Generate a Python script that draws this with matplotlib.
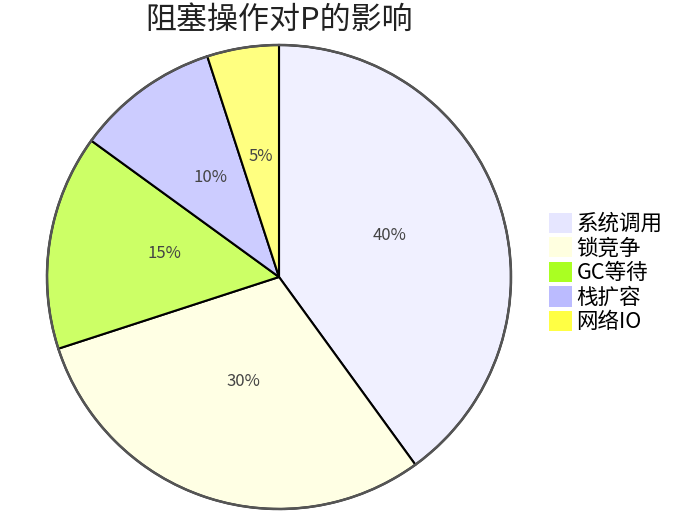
import matplotlib
matplotlib.use("Agg")
import matplotlib.pyplot as plt
from matplotlib.patches import Patch, Circle

plt.rcParams['font.family'] = ['Noto Sans CJK SC', 'DejaVu Sans']

title = "阻塞操作对P的影响"
labels = ["系统调用", "锁竞争", "GC等待", "栈扩容", "网络IO"]
values = [40, 30, 15, 10, 5]
pie_colors = ["#f0f0ff", "#ffffe4", "#ccff66", "#ccccff", "#ffff80"]
legend_colors = ["#e6e6ff", "#ffffe0", "#aaff22", "#bbbbff", "#ffff44"]

fig = plt.figure(figsize=(6.94, 5.30), dpi=100)
ax = fig.add_axes([47/694, 21/530, 464/694, 464/530])

wedges, texts, autotexts = ax.pie(
    values, colors=pie_colors, startangle=90, counterclock=False,
    autopct=lambda p: f"{p:.0f}%", pctdistance=0.50,
    wedgeprops=dict(edgecolor="black", linewidth=1.5, clip_on=False),
    textprops=dict(color="#444444", fontsize=12),
)
for t in autotexts:
    x, y = t.get_position()
    t.set_position((x, y + 0.025))
ax.add_patch(Circle((0, 0), 1.0, facecolor="none", edgecolor="#555555",
                    linewidth=1.8, clip_on=False, zorder=5))
ax.set_xlim(-1, 1)
ax.set_ylim(-1, 1)
ax.set_aspect("equal")
ax.axis("off")

fig.text(279/694, 1 - 20/530, title, ha="center", va="center", fontsize=22.3, color="#222222")

handles = [Patch(facecolor=c, edgecolor="none") for c in legend_colors]
fig.legend(handles, labels, loc="center left", bbox_to_anchor=(538/694, 1 - 273/530),
           frameon=False, fontsize=15.5, handlelength=1.07, handleheight=1.07,
           handletextpad=0.22, labelspacing=0.1, borderpad=0.0)

fig.savefig("out.png", dpi=100)
